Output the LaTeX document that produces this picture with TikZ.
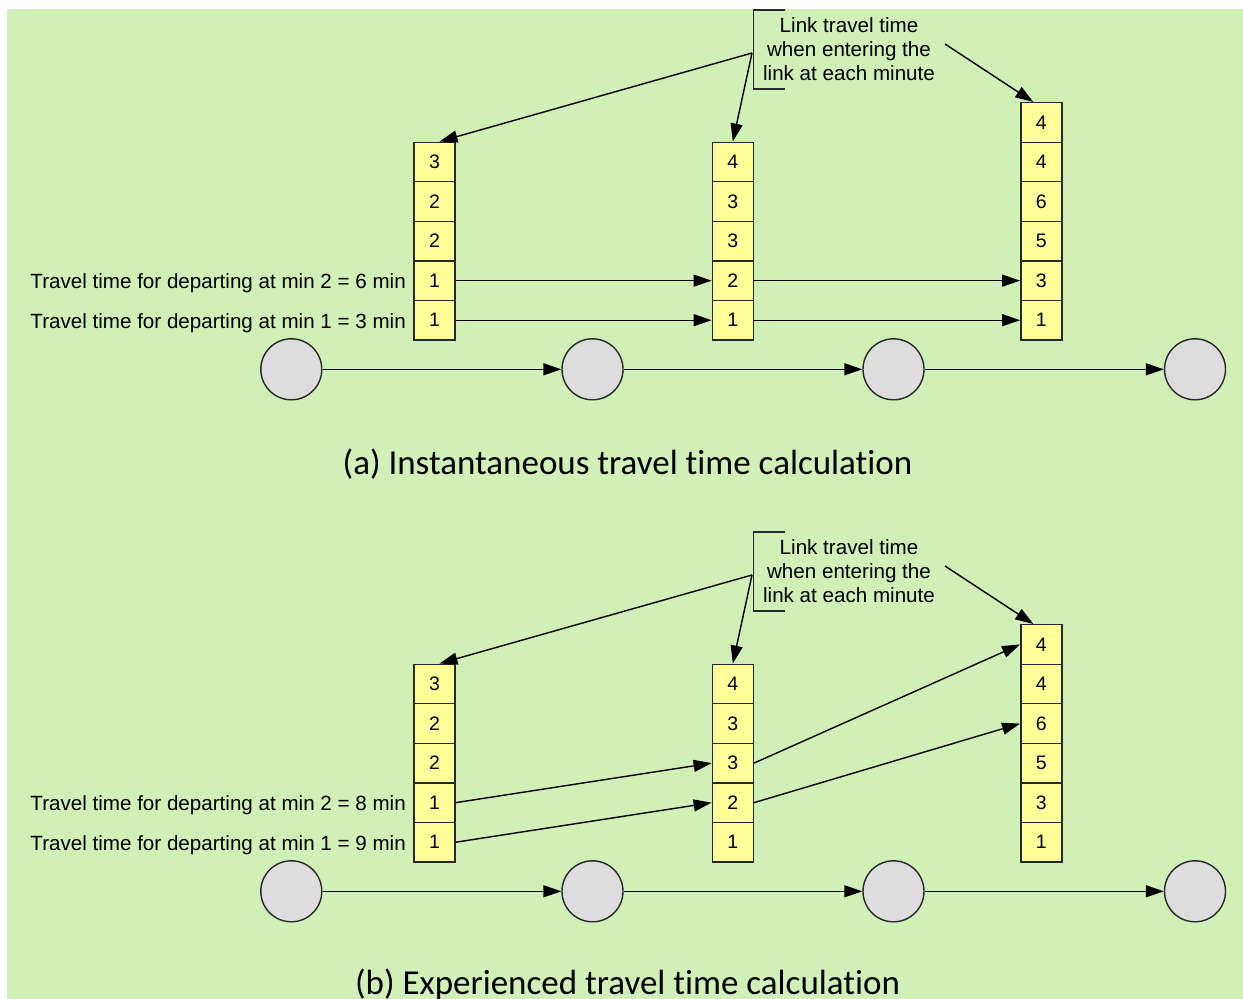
\documentclass[tikz,border=0pt]{standalone}
\usepackage{fontspec}
\setmainfont{Liberation Sans}
\newfontfamily\capfont[Ligatures=NoCommon]{Carlito}
\usetikzlibrary{arrows.meta,calc}
\definecolor{bg}{RGB}{208,240,183}
\definecolor{cellfill}{RGB}{255,255,153}
\definecolor{nodefill}{RGB}{221,221,221}
\definecolor{edgec}{RGB}{40,40,40}
\begin{document}
\begin{tikzpicture}[x=1pt,y=-1pt,
  cell/.style={draw=edgec, line width=1.4pt, fill=cellfill, minimum width=41pt, minimum height=39.55pt, inner sep=0pt, font=\fontsize{19.5}{19.5}\selectfont},
  stopnode/.style={circle, draw=edgec, line width=1.4pt, fill=nodefill, minimum size=61pt, inner sep=0pt},
  arr/.style={-{Triangle[length=18pt,width=12pt]}, line width=1.4pt, black},
  lbl/.style={anchor=east, inner sep=0pt, font=\fontsize{20.6}{24}\selectfont},
  note/.style={align=center, inner sep=0pt, font=\fontsize{20.6}{24}\selectfont},
  bracket/.style={draw=edgec, line width=1.3pt},
  captxt/.style={inner sep=0pt, font=\capfont\fontsize{35}{40}\selectfont}]
\useasboundingbox (0,0) rectangle (1243,999);
\fill[bg] (7,9) rectangle (1243,999);

\foreach \p/\o in {a/0,b/522}{
  \begin{scope}[yshift=-\o pt]
    \foreach \v [count=\r] in {1,1,2,2,3}
      \node[cell] (\p-c1-\r) at (434.5,{320.2-39.55*(\r-1)}) {\v};
    \foreach \v [count=\r] in {1,2,3,3,4}
      \node[cell] (\p-c2-\r) at (732.8,{320.2-39.55*(\r-1)}) {\v};
    \foreach \v [count=\r] in {1,3,5,6,4,4}
      \node[cell] (\p-c3-\r) at (1041.3,{320.2-39.55*(\r-1)}) {\v};
    \node[stopnode] (\p-n1) at (291.3,369.3) {};
    \node[stopnode] (\p-n2) at (592.5,369.3) {};
    \node[stopnode] (\p-n3) at (893.5,369.3) {};
    \node[stopnode] (\p-n4) at (1195,369.3) {};
    \draw[arr] (\p-n1) -- (\p-n2);
    \draw[arr] (\p-n2) -- (\p-n3);
    \draw[arr] (\p-n3) -- (\p-n4);
    \node[note] (\p-note) at (849,49) {Link travel time\\when entering the\\link at each minute};
    \draw[bracket] (785,10) -- (753.3,10) -- (753.3,89) -- (785,89);
    \coordinate (\p-br) at (752,53);
    \coordinate (\p-nr) at (945,44);
    \draw[arr] (\p-br) -- ($(\p-c1-5.north)+(5,0)$);
    \draw[arr] (\p-br) -- (\p-c2-5.north);
    \draw[arr] (\p-nr) -- ($(\p-c3-6.north)+(-8,0)$);
  \end{scope}
}

% panel (a)
\node[lbl] (a-l2) at (406,283.5) {Travel time for departing at min 2 = 6 min};
\node[lbl] (a-l1) at (406,323.5) {Travel time for departing at min 1 = 3 min};
\draw[arr] (a-c1-2.east) -- (a-c2-2.west);
\draw[arr] (a-c2-2.east) -- (a-c3-2.west);
\draw[arr] (a-c1-1.east) -- (a-c2-1.west);
\draw[arr] (a-c2-1.east) -- (a-c3-1.west);
\node[captxt] (a-cap) at (627.5,464) {(a) Instantaneous travel time calculation};

% panel (b)
\node[lbl] (b-l2) at (406,805.5) {Travel time for departing at min 2 = 8 min};
\node[lbl] (b-l1) at (406,845.5) {Travel time for departing at min 1 = 9 min};
\draw[arr] (b-c1-2.east) -- (b-c2-3.west);
\draw[arr] (b-c1-1.east) -- (b-c2-2.west);
\draw[arr] (b-c2-3.east) -- (b-c3-6.west);
\draw[arr] (b-c2-2.east) -- (b-c3-4.west);
\node[captxt] (b-cap) at (627.5,985) {(b) Experienced travel time calculation};
\end{tikzpicture}
\end{document}
